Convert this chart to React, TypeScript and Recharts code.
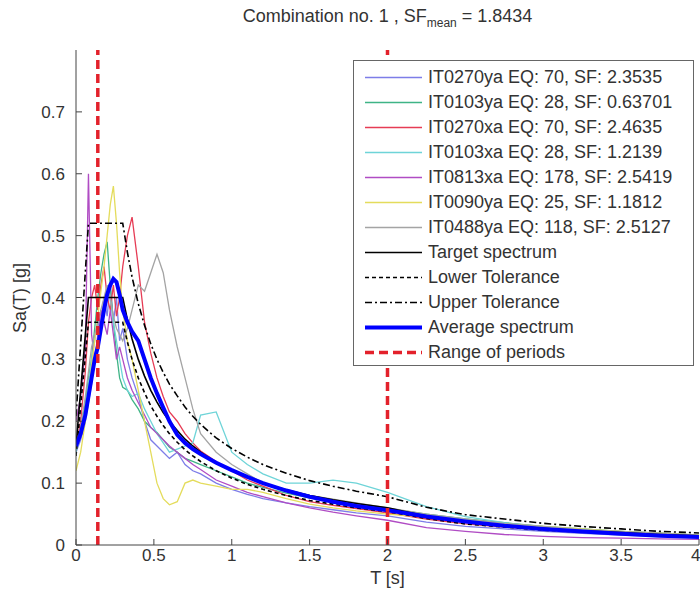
import { Line, LineChart, ReferenceLine, XAxis, YAxis } from "recharts";

const periods = [
  0, 0.03, 0.06, 0.08, 0.1, 0.12, 0.14, 0.16, 0.18, 0.2, 0.22, 0.24, 0.26, 0.28, 0.3, 0.33, 0.36, 0.4, 0.44,
  0.48, 0.52, 0.56, 0.6, 0.65, 0.7, 0.75, 0.8, 0.9, 1.0, 1.1, 1.2, 1.35, 1.5, 1.65, 1.8, 2.0, 2.25, 2.5, 2.75,
  3.0, 3.25, 3.5, 3.75, 4.0,
];

const it0270ya = [
  0.15, 0.17, 0.2, 0.23, 0.26, 0.3, 0.33, 0.36, 0.4, 0.37, 0.42, 0.36, 0.4, 0.33, 0.35, 0.3, 0.27, 0.24, 0.2,
  0.17, 0.16, 0.15, 0.14, 0.15, 0.13, 0.12, 0.115, 0.1, 0.09, 0.082, 0.075, 0.068, 0.062, 0.057, 0.052, 0.047,
  0.037, 0.03, 0.026, 0.022, 0.019, 0.016, 0.014, 0.012,
];
const it0103ya = [
  0.17, 0.19, 0.23, 0.27, 0.3, 0.35, 0.4, 0.44, 0.47, 0.49, 0.42, 0.36, 0.31, 0.27, 0.255, 0.25, 0.235, 0.22,
  0.2, 0.19, 0.182, 0.17, 0.158, 0.15, 0.14, 0.135, 0.13, 0.12, 0.11, 0.1, 0.093, 0.084, 0.076, 0.07, 0.065,
  0.059, 0.05, 0.042, 0.036, 0.03, 0.026, 0.022, 0.019, 0.016,
];
const it0270xa = [
  0.16, 0.2, 0.28, 0.36, 0.4, 0.42, 0.38, 0.42, 0.45, 0.4, 0.38, 0.42, 0.37, 0.4, 0.45, 0.5, 0.53, 0.45, 0.36,
  0.31, 0.27, 0.24, 0.215, 0.2, 0.18, 0.165, 0.152, 0.135, 0.12, 0.105, 0.095, 0.08, 0.07, 0.064, 0.059, 0.052,
  0.042, 0.034, 0.029, 0.025, 0.021, 0.018, 0.016, 0.014,
];
const it0103xa = [
  0.15, 0.18, 0.22, 0.26, 0.3, 0.33, 0.36, 0.35, 0.38, 0.42, 0.4, 0.36, 0.33, 0.3, 0.27, 0.25, 0.24, 0.245, 0.22,
  0.2, 0.18, 0.165, 0.15, 0.155, 0.16, 0.165, 0.21, 0.215, 0.15, 0.13, 0.115, 0.1, 0.1, 0.105, 0.1, 0.085, 0.062,
  0.046, 0.036, 0.029, 0.024, 0.02, 0.017, 0.015,
];
const it0813xa = [
  0.2, 0.24, 0.32, 0.6, 0.34, 0.3, 0.34, 0.38, 0.36, 0.34, 0.38, 0.34, 0.3, 0.32, 0.3, 0.27, 0.25, 0.23, 0.21,
  0.19, 0.18, 0.17, 0.16, 0.15, 0.14, 0.13, 0.122, 0.105, 0.095, 0.085, 0.078, 0.068, 0.06, 0.053, 0.047, 0.04,
  0.028, 0.022, 0.017, 0.014, 0.012, 0.011, 0.01, 0.009,
];
const it0090ya = [
  0.12, 0.15, 0.2, 0.24, 0.29, 0.33, 0.37, 0.41, 0.45, 0.5, 0.55, 0.58, 0.52, 0.44, 0.38, 0.33, 0.3, 0.25, 0.2,
  0.15, 0.1, 0.075, 0.065, 0.07, 0.1, 0.105, 0.1, 0.095, 0.09, 0.09, 0.085, 0.075, 0.066, 0.06, 0.055, 0.05,
  0.045, 0.039, 0.034, 0.03, 0.026, 0.022, 0.019, 0.016,
];
const it0488ya = [
  0.16, 0.19, 0.24, 0.28, 0.32, 0.34, 0.36, 0.38, 0.4, 0.42, 0.4, 0.37, 0.35, 0.34, 0.33, 0.35, 0.38, 0.42, 0.41,
  0.44, 0.47, 0.44, 0.38, 0.32, 0.27, 0.22, 0.18, 0.15, 0.13, 0.115, 0.1, 0.09, 0.08, 0.074, 0.068, 0.06, 0.05,
  0.042, 0.035, 0.03, 0.025, 0.022, 0.019, 0.016,
];

const target = [
  0.16, 0.25, 0.34, 0.4, 0.4, 0.4, 0.4, 0.4, 0.4, 0.4, 0.4, 0.4, 0.4, 0.4, 0.4, 0.364, 0.333, 0.3, 0.273, 0.25,
  0.231, 0.214, 0.2, 0.185, 0.171, 0.16, 0.15, 0.133, 0.12, 0.109, 0.1, 0.089, 0.08, 0.073, 0.067, 0.06, 0.047,
  0.038, 0.032, 0.027, 0.023, 0.02, 0.017, 0.015,
];
const lowerTol = [
  0.144, 0.225, 0.306, 0.36, 0.36, 0.36, 0.36, 0.36, 0.36, 0.36, 0.36, 0.36, 0.36, 0.36, 0.36, 0.328, 0.3, 0.27,
  0.246, 0.225, 0.208, 0.193, 0.18, 0.166, 0.154, 0.144, 0.135, 0.12, 0.108, 0.098, 0.09, 0.08, 0.072, 0.066,
  0.06, 0.054, 0.043, 0.034, 0.029, 0.024, 0.021, 0.018, 0.015, 0.0135,
];
const upperTol = [
  0.208, 0.325, 0.442, 0.52, 0.52, 0.52, 0.52, 0.52, 0.52, 0.52, 0.52, 0.52, 0.52, 0.52, 0.52, 0.473, 0.433,
  0.39, 0.355, 0.325, 0.3, 0.279, 0.26, 0.241, 0.223, 0.208, 0.195, 0.173, 0.156, 0.142, 0.13, 0.116, 0.104,
  0.095, 0.087, 0.078, 0.061, 0.049, 0.042, 0.035, 0.03, 0.026, 0.022, 0.0195,
];
const average = [
  0.16, 0.18, 0.21, 0.24, 0.27, 0.3, 0.32, 0.35, 0.38, 0.405, 0.42, 0.43, 0.425, 0.405, 0.38, 0.36, 0.345, 0.33,
  0.3, 0.27, 0.245, 0.222, 0.2, 0.178, 0.165, 0.155, 0.147, 0.133, 0.121, 0.11, 0.1, 0.088, 0.078, 0.07, 0.063,
  0.056, 0.046, 0.038, 0.031, 0.026, 0.022, 0.018, 0.015, 0.013,
];

const periodRange = [0.14, 2];
const xTicks = [0, 0.5, 1, 1.5, 2, 2.5, 3, 3.5, 4];
const yTicks = [0, 0.1, 0.2, 0.3, 0.4, 0.5, 0.6, 0.7];

const records = [
  { key: "it0270ya", name: "IT0270ya EQ: 70, SF: 2.3535", color: "#7d7de8", values: it0270ya },
  { key: "it0103ya", name: "IT0103ya EQ: 28, SF: 0.63701", color: "#3fb486", values: it0103ya },
  { key: "it0270xa", name: "IT0270xa EQ: 70, SF: 2.4635", color: "#e63c55", values: it0270xa },
  { key: "it0103xa", name: "IT0103xa EQ: 28, SF: 1.2139", color: "#6ed4d8", values: it0103xa },
  { key: "it0813xa", name: "IT0813xa EQ: 178, SF: 2.5419", color: "#b04cc4", values: it0813xa },
  { key: "it0090ya", name: "IT0090ya EQ: 25, SF: 1.1812", color: "#e4dc5c", values: it0090ya },
  { key: "it0488ya", name: "IT0488ya EQ: 118, SF: 2.5127", color: "#a4a4a4", values: it0488ya },
];

const chartData = periods.map((t, i) => {
  const row: Record<string, number> = { t, target: target[i], lower: lowerTol[i], upper: upperTol[i], average: average[i] };
  records.forEach((r) => (row[r.key] = r.values[i]));
  return row;
});

const legendItems = [
  ...records.map((r) => ({ name: r.name, color: r.color, width: 1.3, dash: undefined as string | undefined })),
  { name: "Target spectrum", color: "#000", width: 1.6, dash: undefined },
  { name: "Lower Tolerance", color: "#000", width: 1.6, dash: "4 3" },
  { name: "Upper Tolerance", color: "#000", width: 1.6, dash: "7 3 2 3" },
  { name: "Average spectrum", color: "#0000ff", width: 4, dash: undefined },
  { name: "Range of periods", color: "#e3212b", width: 3.5, dash: "9 5" },
];

const font = "'Liberation Sans', Arial, Helvetica, sans-serif";
const tickStyle = { fontSize: 17, fill: "#333", fontFamily: font };

function LegendBox() {
  return (
    <div
      style={{
        position: "absolute",
        left: 353,
        top: 60,
        width: 341,
        height: 306,
        boxSizing: "border-box",
        border: "1px solid #666",
        background: "#fff",
        paddingTop: 3.5,
        fontFamily: font,
      }}
    >
      {legendItems.map((item) => (
        <div key={item.name} style={{ display: "flex", alignItems: "center", height: 25 }}>
          <svg width={70} height={25} style={{ flex: "none" }}>
            <line x1={11} x2={68} y1={12.5} y2={12.5} stroke={item.color} strokeWidth={item.width} strokeDasharray={item.dash} />
          </svg>
          <span style={{ fontSize: 18, color: "#333", marginLeft: 4, whiteSpace: "nowrap" }}>{item.name}</span>
        </div>
      ))}
    </div>
  );
}

export default function App() {
  return (
    <div style={{ position: "absolute", left: 0, top: 0, width: 700, height: 601, background: "#fff", overflow: "hidden" }}>
      <LineChart width={700} height={601} data={chartData} margin={{ top: 50, right: 1, bottom: 26, left: 36 }}>
        <XAxis
          dataKey="t"
          type="number"
          domain={[0, 4]}
          ticks={xTicks}
          tickSize={-6}
          tickMargin={10}
          tick={tickStyle}
          height={30}
          stroke="#444"
          allowDataOverflow
        />
        <XAxis xAxisId="top" orientation="top" type="number" domain={[0, 4]} ticks={xTicks} tick={false} tickSize={-6} height={0} stroke="#444" allowDataOverflow />
        <YAxis
          type="number"
          domain={[0, 0.8]}
          ticks={yTicks}
          tickSize={-6}
          tickMargin={17}
          tick={tickStyle}
          width={40}
          stroke="#444"
          allowDataOverflow
        />
        <YAxis yAxisId="right" orientation="right" type="number" domain={[0, 0.8]} ticks={yTicks} tick={false} tickSize={-6} width={0} stroke="#444" allowDataOverflow />
        {records.map((r) => (
          <Line key={r.key} dataKey={r.key} stroke={r.color} strokeWidth={1.3} dot={false} activeDot={false} isAnimationActive={false} />
        ))}
        <Line dataKey="target" stroke="#000" strokeWidth={1.6} dot={false} activeDot={false} isAnimationActive={false} />
        <Line dataKey="lower" stroke="#000" strokeWidth={1.6} strokeDasharray="4 3" dot={false} activeDot={false} isAnimationActive={false} />
        <Line dataKey="upper" stroke="#000" strokeWidth={1.6} strokeDasharray="7 3 2 3" dot={false} activeDot={false} isAnimationActive={false} />
        <Line dataKey="average" stroke="#0000ff" strokeWidth={4} dot={false} activeDot={false} isAnimationActive={false} />
        {periodRange.map((p) => (
          <ReferenceLine key={p} x={p} stroke="#e3212b" strokeWidth={3.5} strokeDasharray="9 5" />
        ))}
      </LineChart>
      <div style={{ position: "absolute", left: 76, width: 623, top: 6, textAlign: "center", fontFamily: font, fontSize: 18, color: "#333" }}>
        Combination no. 1 , SF<sub style={{ fontSize: 12 }}>mean</sub> = 1.8434
      </div>
      <div
        style={{
          position: "absolute",
          left: 20,
          top: 298,
          transform: "translate(-50%, -50%) rotate(-90deg)",
          fontFamily: font,
          fontSize: 18,
          color: "#333",
          whiteSpace: "nowrap",
        }}
      >
        Sa(T) [g]
      </div>
      <div style={{ position: "absolute", left: 76, width: 623, top: 568, textAlign: "center", fontFamily: font, fontSize: 18, color: "#333" }}>
        T [s]
      </div>
      <LegendBox />
    </div>
  );
}
